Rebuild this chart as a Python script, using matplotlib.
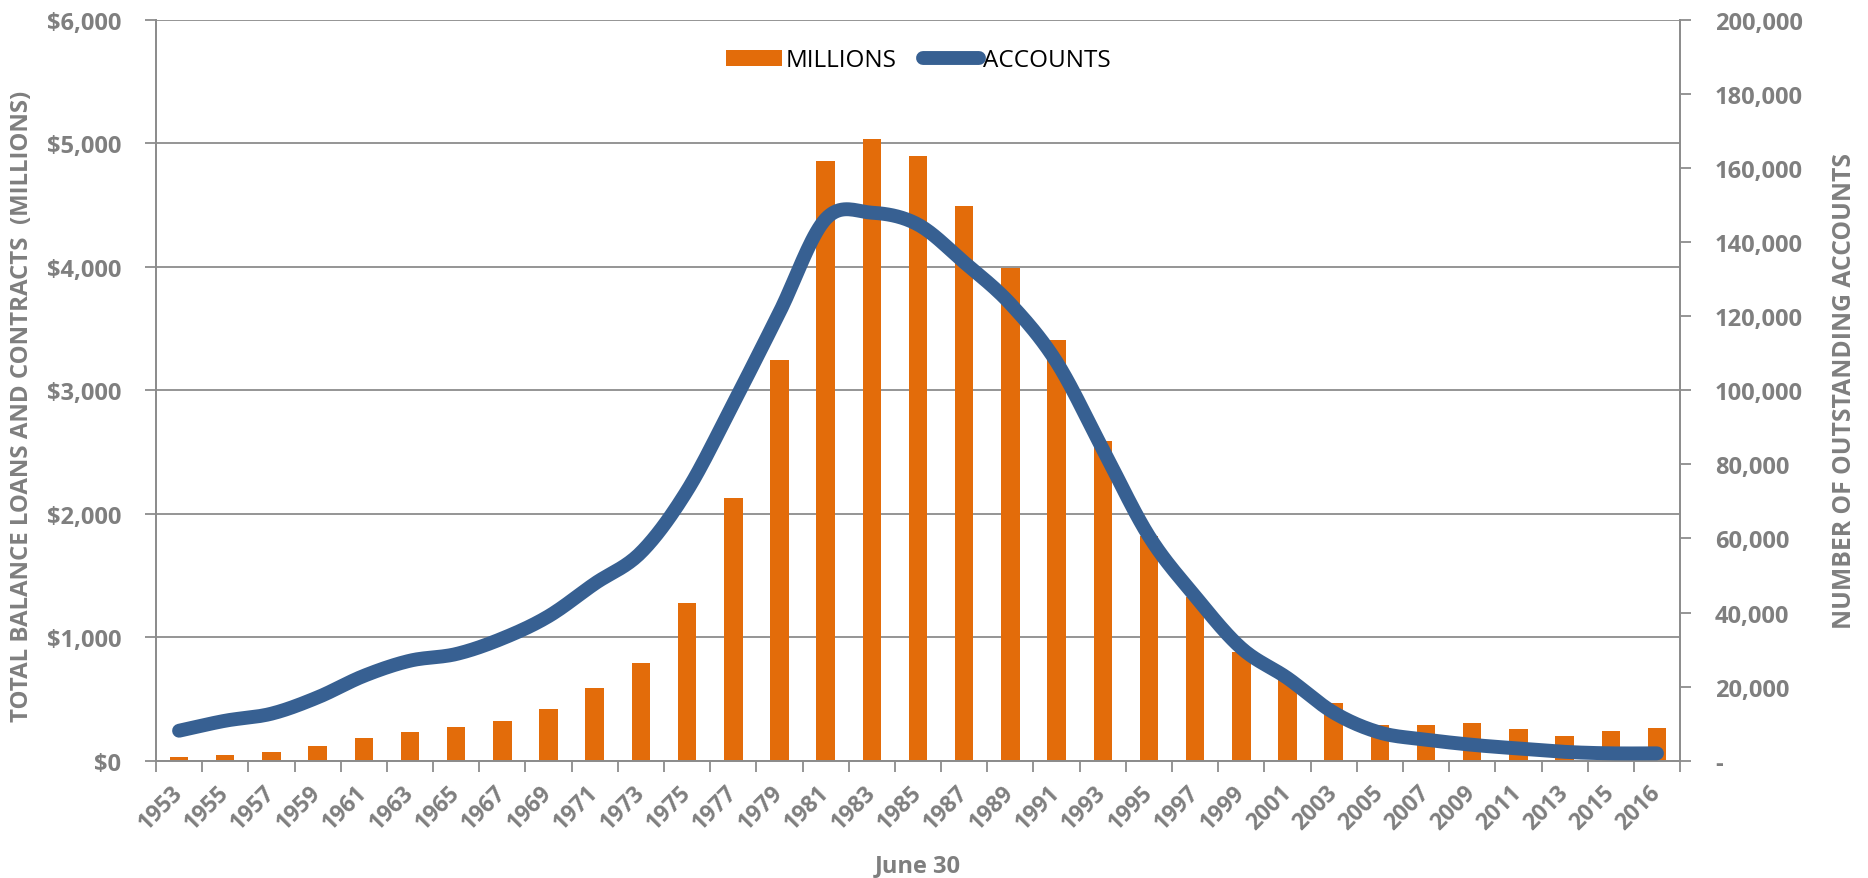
import numpy as np
import matplotlib
matplotlib.use("Agg")
import matplotlib.pyplot as plt
from matplotlib.patches import Patch
from matplotlib.lines import Line2D
from matplotlib.ticker import FuncFormatter, FixedLocator

# ---------------- data ----------------
years = ["1953", "1955", "1957", "1959", "1961", "1963", "1965", "1967", "1969",
         "1971", "1973", "1975", "1977", "1979", "1981", "1983", "1985", "1987",
         "1989", "1991", "1993", "1995", "1997", "1999", "2001", "2003", "2005",
         "2007", "2009", "2011", "2013", "2015", "2016"]
millions = [30, 50, 70, 120, 185, 232, 273, 324, 419, 586, 792, 1275, 2127,
            3245, 4858, 5032, 4896, 4488, 3986, 3408, 2586, 1822, 1325, 877,
            655, 468, 290, 290, 304, 257, 203, 239, 265]
accounts = [8100, 10800, 12700, 17100, 22900, 27000, 28800, 33000, 39000,
            47800, 56200, 72900, 96400, 121000, 146200, 147900, 144700, 134500,
            123300, 107600, 84100, 60600, 44400, 30400, 22300, 13000, 7600,
            5700, 4300, 3300, 2400, 2000, 2000]
left_ticks = [0, 1000, 2000, 3000, 4000, 5000, 6000]
right_ticks = [0, 20000, 40000, 60000, 80000, 100000, 120000, 140000,
               160000, 180000, 200000]

ORANGE = "#E36C0A"
BLUE = "#376092"
GRAY = "#7F7F7F"
GRID = "#8C8C8C"
FONT = ["Open Sans", "DejaVu Sans"]
plt.rcParams["font.family"] = FONT


def smooth(xs, ys, n=20):
    """Uniform Catmull-Rom rendering of a smoothed line (Excel-style)."""
    xs = np.asarray(xs, float)
    ys = np.asarray(ys, float)
    px = np.concatenate([[2 * xs[0] - xs[1]], xs, [2 * xs[-1] - xs[-2]]])
    py = np.concatenate([[2 * ys[0] - ys[1]], ys, [2 * ys[-1] - ys[-2]]])
    ox, oy = [], []
    t = np.linspace(0, 1, n, endpoint=False)
    for i in range(1, len(px) - 2):
        for P, out in ((px, ox), (py, oy)):
            p0, p1, p2, p3 = P[i - 1], P[i], P[i + 1], P[i + 2]
            out.extend(0.5 * ((2 * p1) + (-p0 + p2) * t
                              + (2 * p0 - 5 * p1 + 4 * p2 - p3) * t ** 2
                              + (-p0 + 3 * p1 - 3 * p2 + p3) * t ** 3))
    ox.append(xs[-1])
    oy.append(ys[-1])
    return np.array(ox), np.array(oy)


fig = plt.figure(figsize=(18.68, 8.79), dpi=100)
ax = fig.add_axes([0.0835, 0.1334, 0.8159, 0.8431])
ax2 = ax.twinx()

x = np.arange(len(years))
ax.bar(x, millions, width=0.4, color=ORANGE, zorder=2)

ax.set_xlim(-0.5, len(years) - 0.5)
ax.set_ylim(0, 6000)
ax2.set_ylim(0, 200000)

# grid
ax.set_axisbelow(True)
ax.yaxis.grid(True, color=GRID, linewidth=1.3)
ax.xaxis.grid(False)

# spines
for a in (ax, ax2):
    a.spines["top"].set_visible(False)
    for s in ("left", "right", "bottom"):
        a.spines[s].set_color(GRID)
        a.spines[s].set_linewidth(1.3)

# x ticks
ax.set_xticks(x)
ax.set_xticklabels(years, rotation=45, ha="right", va="center",
                   rotation_mode="anchor")
ax.xaxis.set_minor_locator(FixedLocator(np.arange(-0.5, len(years), 1.0)))
ax.tick_params(axis="x", which="major", length=0, pad=20, labelsize=16.5,
               labelcolor=GRAY)
ax.tick_params(axis="x", which="minor", length=8, width=1.3, color=GRID)
for lab in ax.get_xticklabels():
    lab.set_fontweight("bold")

# left y ticks
ax.set_yticks(left_ticks)
ax.yaxis.set_major_formatter(FuncFormatter(lambda v, p: "${:,.0f}".format(v)))
ax.tick_params(axis="y", length=8, width=1.3, color=GRID, pad=17,
               labelsize=17, labelcolor=GRAY)
for lab in ax.get_yticklabels():
    lab.set_fontweight("bold")

# right y ticks
ax2.set_yticks(right_ticks)
ax2.yaxis.set_major_formatter(
    FuncFormatter(lambda v, p: "-" if v == 0 else "{:,.0f}".format(v)))
ax2.tick_params(axis="y", length=8, width=1.3, color=GRID, pad=17,
                labelsize=17, labelcolor=GRAY)
for lab in ax2.get_yticklabels():
    lab.set_fontweight("bold")

# line
sx, sy = smooth(x, accounts)
ax2.plot(sx, sy, color=BLUE, linewidth=10, solid_capstyle="round",
         solid_joinstyle="round", zorder=3)

# axis titles
ax.set_ylabel("TOTAL BALANCE LOANS AND CONTRACTS  (MILLIONS)", fontsize=17.3,
              fontweight="bold", color=GRAY)
ax.yaxis.label.set_va("center")
ax.yaxis.set_label_coords(-0.088, 0.48)
ax2.set_ylabel("NUMBER OF OUTSTANDING ACCOUNTS", fontsize=17.8,
               fontweight="bold", color=GRAY, rotation=90)
ax2.yaxis.label.set_va("center")
ax2.yaxis.set_label_coords(1.1076, 0.50)
ax.set_xlabel("June 30", fontsize=17, fontweight="bold", color=GRAY)
ax.xaxis.label.set_va("center")
ax.xaxis.set_label_coords(0.5, -0.141)

# legend
handles = [Patch(facecolor=ORANGE, edgecolor="none"),
           Line2D([0], [0], color=BLUE, linewidth=10, solid_capstyle="round")]
leg = ax2.legend(handles, ["MILLIONS", "ACCOUNTS"], loc="center",
                 bbox_to_anchor=(0.5, 0.945), ncol=2, frameon=False,
                 fontsize=17.5, handlelength=2.3, handletextpad=0.15,
                 columnspacing=1.1, handleheight=0.6)
for t in leg.get_texts():
    t.set_color("black")

fig.savefig("out.png", dpi=100)
